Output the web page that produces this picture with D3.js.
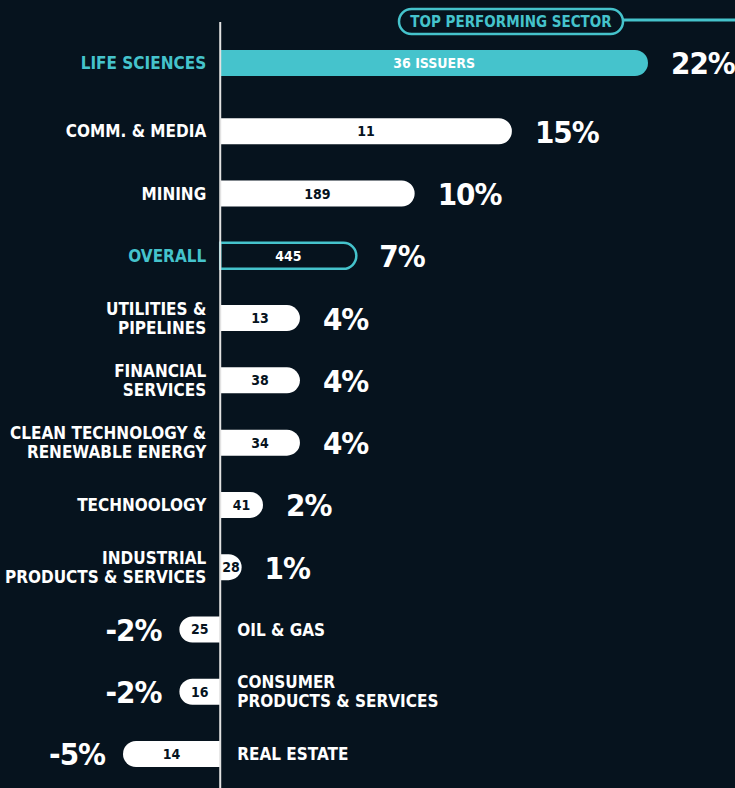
<!DOCTYPE html>
<html>
<head>
<meta charset="utf-8">
<script src="https://cdn.jsdelivr.net/npm/d3@7"></script>
<style>
  html, body { margin: 0; padding: 0; background: #06131e; }
  svg { display: block; }
  text { font-family: "DejaVu Sans Condensed", "DejaVu Sans", sans-serif; font-weight: bold; }
</style>
</head>
<body>
<div id="chart"></div>
<script>
// sectors, top to bottom ("|" splits a label over two lines)
const sectors = [
	'LIFE SCIENCES', 'COMM. & MEDIA', 'MINING', 'OVERALL',
	'UTILITIES &|PIPELINES', 'FINANCIAL|SERVICES', 'CLEAN TECHNOLOGY &|RENEWABLE ENERGY',
	'TECHNOOLOGY', 'INDUSTRIAL|PRODUCTS & SERVICES', 'OIL & GAS',
	'CONSUMER|PRODUCTS & SERVICES', 'REAL ESTATE'
];
// return (%)
const returns = [22, 15, 10, 7, 4.1, 4.1, 4.1, 2.2, 1.1, -2.1, -2.1, -5];
// labels printed beside the bars
const returnLabels = ['22%', '15%', '10%', '7%', '4%', '4%', '4%', '2%', '1%', '-2%', '-2%', '-5%'];
// number of issuers printed in the bars
const issuers = ['36 ISSUERS', '11', '189', '445', '13', '38', '34', '41', '28', '25', '16', '14'];

const topSector = 'LIFE SCIENCES';
const overallSector = 'OVERALL';
const calloutText = 'TOP PERFORMING SECTOR';

const width = 735;
const height = 788;
const teal = '#45c3cc';
const bg = '#06131e';
const barH = 26;
const topGap = 6;

const svg = d3.select('#chart')
	.append('svg')
	.attr('width', width)
	.attr('height', height);

const xScale = d3.scaleLinear()
	.domain([-5, 22])
	.range([123, 648]);

const yScale = d3.scalePoint()
	.domain(sectors)
	.range([69, 754]);

const y = d => yScale(d) - (d === topSector ? topGap : 0);
const x0 = xScale(0);

// bar with a round free end, flat on the axis
function barPath(v, cy) {
	const x1 = xScale(v);
	const w = Math.abs(x1 - x0);
	const r = Math.min(barH / 2, w);
	const top = cy - barH / 2, bot = cy + barH / 2;
	if (v >= 0) {
		return `M${x0},${top}H${x1 - r}A${r},${barH / 2} 0 0 1 ${x1 - r},${bot}H${x0}Z`;
	}
	return `M${x0},${top}H${x1 + r}A${r},${barH / 2} 0 0 0 ${x1 + r},${bot}H${x0}Z`;
}

const rows = sectors.map((s, i) => ({
	sector: s, value: returns[i], label: returnLabels[i], count: issuers[i]
}));

const row = svg.selectAll('.row')
	.data(rows)
	.join('g')
	.attr('class', 'row');

row.append('path')
	.attr('d', d => barPath(d.value, y(d.sector)))
	.attr('fill', d => d.sector === topSector ? teal : (d.sector === overallSector ? bg : '#ffffff'))
	.attr('stroke', d => d.sector === overallSector ? teal : 'none')
	.attr('stroke-width', 2.5);

row.append('text')
	.attr('x', d => (x0 + xScale(d.value)) / 2)
	.attr('y', d => y(d.sector))
	.attr('dy', '0.36em')
	.attr('text-anchor', 'middle')
	.attr('font-size', 14)
	.attr('fill', d => (d.sector === topSector || d.sector === overallSector) ? '#ffffff' : '#06131e')
	.text(d => d.count);

row.append('text')
	.attr('x', d => d.value >= 0 ? xScale(d.value) + 23 : xScale(d.value) - 18)
	.attr('y', d => y(d.sector))
	.attr('dy', '0.37em')
	.attr('text-anchor', d => d.value >= 0 ? 'start' : 'end')
	.attr('font-size', 31)
	.attr('letter-spacing', -1)
	.attr('fill', '#ffffff')
	.text(d => d.label);

// sector names: left of the axis for gains, right of it for losses
const name = row.append('text')
	.attr('text-anchor', d => d.value >= 0 ? 'end' : 'start')
	.attr('font-size', 17)
	.attr('fill', d => (d.sector === topSector || d.sector === overallSector) ? teal : '#ffffff');

name.selectAll('tspan')
	.data(d => d.sector.split('|').map((t, i, a) => ({ t, i, n: a.length, d })))
	.join('tspan')
	.attr('x', d => d.d.value >= 0 ? x0 - 14 : x0 + 17)
	.attr('y', d => y(d.d.sector) + (d.i - (d.n - 1) / 2) * 19)
	.attr('dy', '0.36em')
	.text(d => d.t);

// axis
svg.append('line')
	.attr('x1', x0).attr('x2', x0)
	.attr('y1', 22).attr('y2', height)
	.attr('stroke', '#e2e2e2')
	.attr('stroke-width', 2);

// callout pill
const pill = svg.append('g')
	.attr('transform', `translate(${511},${21})`);

pill.append('rect')
	.attr('x', -112).attr('y', -12)
	.attr('width', 224).attr('height', 25)
	.attr('rx', 12.5)
	.attr('fill', bg)
	.attr('stroke', teal)
	.attr('stroke-width', 2.5);

pill.append('text')
	.attr('text-anchor', 'middle')
	.attr('dy', '0.4em')
	.attr('font-size', 15)
	.attr('fill', teal)
	.text(calloutText);

svg.append('line')
	.attr('x1', 511 + 112).attr('x2', width)
	.attr('y1', 20).attr('y2', 20)
	.attr('stroke', teal)
	.attr('stroke-width', 3);
</script>
</body>
</html>
